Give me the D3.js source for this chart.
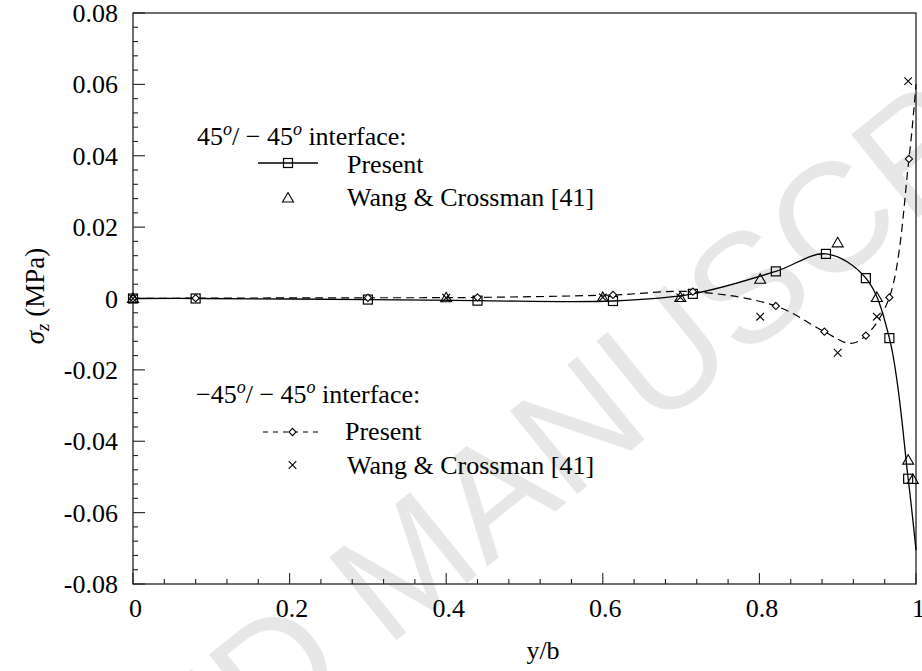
<!DOCTYPE html>
<html>
<head>
<meta charset="utf-8">
<script src="https://cdn.jsdelivr.net/npm/d3@7"></script>
<style>
  html, body { margin: 0; padding: 0; background: #fff; }
  svg { display: block; }
</style>
</head>
<body>
<svg id="chart" width="922" height="671"></svg>
<script>
// σz along the interface, y/b from 0 to 1
// 45°/−45° interface, present solution (square markers)
const present45X = [0, 0.08, 0.3, 0.44, 0.613, 0.715, 0.821, 0.885, 0.936, 0.966, 0.99];
const present45Y = [0, 0, -0.0003, -0.0006, -0.0007, 0.0013, 0.0076, 0.0125, 0.0057, -0.0111, -0.0505];
// extra curve nodes for the solid line (no marker)
const present45CurveX = [1];
const present45CurveY = [-0.0705];

// −45°/−45° interface, present solution (diamond markers)
const presentM45X = [0, 0.08, 0.3, 0.44, 0.613, 0.715, 0.821, 0.883, 0.936, 0.966, 0.991];
const presentM45Y = [0, 0.0001, 0.0002, 0.0003, 0.001, 0.0019, -0.0021, -0.0093, -0.0104, 0.0003, 0.0391];
const presentM45CurveX = [0.916, 1];
const presentM45CurveY = [-0.0126, 0.06];

// Wang & Crossman [41], 45°/−45° (triangles)
const wang45X = [0, 0.4, 0.6, 0.699, 0.801, 0.9, 0.95, 0.99, 0.996];
const wang45Y = [0, 0.0002, 0.0003, 0.0003, 0.0054, 0.0156, 0.0003, -0.0453, -0.0507];

// Wang & Crossman [41], −45°/−45° (crosses)
const wangM45X = [0, 0.4, 0.6, 0.699, 0.801, 0.9, 0.95, 0.99];
const wangM45Y = [0, 0.0002, 0.0003, 0.0003, -0.0051, -0.0152, -0.0051, 0.0609];

const xTicks = [0, 0.2, 0.4, 0.6, 0.8, 1];
const xTickLabels = ["0", "0.2", "0.4", "0.6", "0.8", "1"];
const yTicks = [-0.08, -0.06, -0.04, -0.02, 0, 0.02, 0.04, 0.06, 0.08];
const yTickLabels = ["-0.08", "-0.06", "-0.04", "-0.02", "0", "0.02", "0.04", "0.06", "0.08"];

const SERIF = "'Liberation Serif', 'DejaVu Serif', serif";

const svg = d3.select("#chart");
const L = 133, R = 916, T = 13, B = 584;
const x = d3.scaleLinear().domain([0, 1]).range([L, R]);
const y = d3.scaleLinear().domain([-0.08, 0.08]).range([B, T]);

function label(sel) {
  return sel.attr("font-family", SERIF).attr("font-size", 26).attr("fill", "#000");
}

// faint diagonal watermark
svg.append("text")
  .attr("transform", "translate(440,605) rotate(-39)")
  .attr("text-anchor", "middle")
  .attr("font-family", "'Liberation Sans', Arial, sans-serif")
  .attr("font-size", 155)
  .attr("fill", "#e7e7e7")
  .text("ACCEPTED MANUSCRIPT");

// frame
svg.append("rect")
  .attr("x", L).attr("y", T).attr("width", R - L).attr("height", B - T)
  .attr("fill", "none").attr("stroke", "#222").attr("stroke-width", 1.3);

// y ticks (inward), minor every 0.004
const yMinor = d3.range(-0.08, 0.0801, 0.004).map(v => +v.toFixed(4));
svg.append("g").selectAll("line").data(yMinor).join("line")
  .attr("x1", L).attr("x2", d => L + (Math.abs(d * 50 - Math.round(d * 50)) < 1e-6 ? 12 : 5))
  .attr("y1", d => y(d)).attr("y2", d => y(d))
  .attr("stroke", "#222").attr("stroke-width", 1.1);

label(svg.append("g").selectAll("text").data(yTicks).join("text"))
  .attr("x", 118).attr("y", d => y(d) + 9)
  .attr("text-anchor", "end")
  .text((d, i) => yTickLabels[i]);

// x ticks (inward), minor every 0.04
const xMinor = d3.range(0, 1.0001, 0.04).map(v => +v.toFixed(3));
svg.append("g").selectAll("line").data(xMinor).join("line")
  .attr("x1", d => x(d)).attr("x2", d => x(d))
  .attr("y1", B).attr("y2", d => B - (Math.abs(d * 5 - Math.round(d * 5)) < 1e-6 ? 11 : 5))
  .attr("stroke", "#222").attr("stroke-width", 1.1);

label(svg.append("g").selectAll("text").data(xTicks).join("text"))
  .attr("x", d => x(d) + 2.5).attr("y", 617)
  .attr("text-anchor", "middle")
  .text((d, i) => xTickLabels[i]);

// axis titles
label(svg.append("text"))
  .attr("x", 543).attr("y", 659)
  .attr("text-anchor", "middle")
  .text("y/b");

const yl = label(svg.append("text"))
  .attr("transform", "translate(44,296) rotate(-90)")
  .attr("text-anchor", "middle")
  .attr("font-size", 27);
yl.append("tspan").attr("font-style", "italic").text("σ");
yl.append("tspan").attr("font-style", "italic").attr("font-size", 19).attr("dy", 5).text("z");
yl.append("tspan").attr("dy", -5).text(" (MPa)");

// curves
function pts(xs, ys, ex, ey) {
  const p = xs.map((v, i) => [v, ys[i]]).concat(ex.map((v, i) => [v, ey[i]]));
  return p.sort((a, b) => a[0] - b[0]);
}
const line = d3.line().x(d => x(d[0])).y(d => y(d[1])).curve(d3.curveCatmullRom.alpha(0.5));

const plot = svg.append("g");
plot.append("path")
  .attr("d", line(pts(presentM45X, presentM45Y, presentM45CurveX, presentM45CurveY)))
  .attr("fill", "none").attr("stroke", "#000").attr("stroke-width", 1.2)
  .attr("stroke-dasharray", "8,5");
plot.append("path")
  .attr("d", line(pts(present45X, present45Y, present45CurveX, present45CurveY)))
  .attr("fill", "none").attr("stroke", "#000").attr("stroke-width", 1.3);

// marker shapes
function square(g, cx, cy) {
  g.append("rect").attr("x", cx - 4.5).attr("y", cy - 4.5).attr("width", 9).attr("height", 9)
    .attr("fill", "none").attr("stroke", "#000").attr("stroke-width", 1.2);
}
function diamond(g, cx, cy) {
  const s = 3.6;
  g.append("path").attr("d", `M${cx},${cy - s}L${cx + s},${cy}L${cx},${cy + s}L${cx - s},${cy}Z`)
    .attr("fill", "#fff").attr("stroke", "#000").attr("stroke-width", 1.1);
}
function triangle(g, cx, cy) {
  g.append("path").attr("d", `M${cx},${cy - 5.5}L${cx + 5.5},${cy + 4}L${cx - 5.5},${cy + 4}Z`)
    .attr("fill", "none").attr("stroke", "#000").attr("stroke-width", 1.1);
}
function cross(g, cx, cy) {
  const s = 3.8;
  g.append("path").attr("d", `M${cx - s},${cy - s}L${cx + s},${cy + s}M${cx - s},${cy + s}L${cx + s},${cy - s}`)
    .attr("fill", "none").attr("stroke", "#000").attr("stroke-width", 1.1);
}

const mk = svg.append("g");
present45X.forEach((v, i) => square(mk, x(v), y(present45Y[i])));
presentM45X.forEach((v, i) => diamond(mk, x(v), y(presentM45Y[i])));
wang45X.forEach((v, i) => triangle(mk, x(v), y(wang45Y[i])));
wangM45X.forEach((v, i) => cross(mk, x(v), y(wangM45Y[i])));

// legends
function heading(tx, ty, lead) {
  const t = label(svg.append("text")).attr("x", tx).attr("y", ty);
  t.append("tspan").text(lead + "45");
  t.append("tspan").attr("dy", -10).attr("font-size", 18).attr("font-style", "italic").text("o");
  t.append("tspan").attr("dy", 10).text("/ − 45");
  t.append("tspan").attr("dy", -10).attr("font-size", 18).attr("font-style", "italic").text("o");
  t.append("tspan").attr("dy", 10).text(" interface:");
}
const lg = svg.append("g");
heading(197, 145, "");
lg.append("line").attr("x1", 258).attr("x2", 318).attr("y1", 163).attr("y2", 163)
  .attr("stroke", "#000").attr("stroke-width", 1.3);
square(lg, 288, 163);
label(lg.append("text")).attr("x", 347).attr("y", 173).text("Present");
triangle(lg, 288, 198);
label(lg.append("text")).attr("x", 347).attr("y", 206).text("Wang & Crossman [41]");

heading(196, 403, "−");
lg.append("line").attr("x1", 263).attr("x2", 323).attr("y1", 432).attr("y2", 432)
  .attr("stroke", "#000").attr("stroke-width", 1.1).attr("stroke-dasharray", "5,5");
diamond(lg, 292.5, 432);
label(lg.append("text")).attr("x", 345).attr("y", 440).text("Present");
cross(lg, 292.5, 465);
label(lg.append("text")).attr("x", 347).attr("y", 474).text("Wang & Crossman [41]");
</script>
</body>
</html>
